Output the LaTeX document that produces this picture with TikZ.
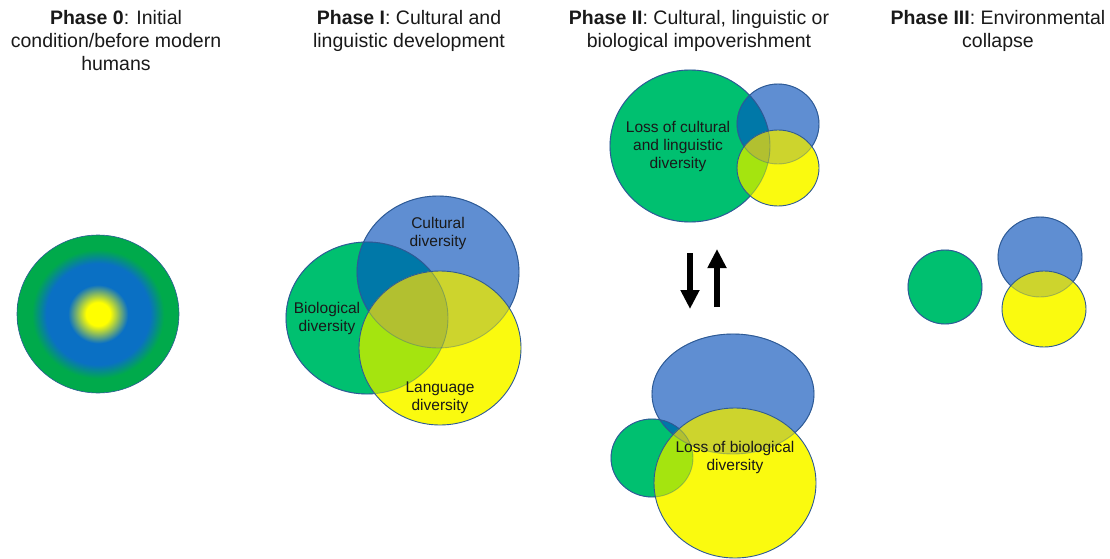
\documentclass[tikz,border=0pt]{standalone}
\usepackage{fontspec}
\setmainfont{Liberation Sans}
\usetikzlibrary{arrows.meta}
\definecolor{cg}{RGB}{0,192,112}
\definecolor{cb}{RGB}{95,142,210}
\definecolor{cgb}{RGB}{0,120,168}
\definecolor{cy}{RGB}{250,250,15}
\definecolor{cyb}{RGB}{205,212,45}
\definecolor{cyg}{RGB}{165,228,15}
\definecolor{cygb}{RGB}{178,192,48}
\definecolor{ol}{RGB}{45,90,150}
\definecolor{txt}{RGB}{25,25,25}
\definecolor{pzy}{RGB}{255,255,0}
\definecolor{pzb}{RGB}{10,112,196}
\definecolor{pzg}{RGB}{0,170,75}
\pgfdeclareradialshading{phasezero}{\pgfpoint{0bp}{0bp}}{color(0bp)=(pzy); color(3.7bp)=(pzy); color(9.3bp)=(pzb); color(16bp)=(pzb); color(20.4bp)=(pzg); color(25bp)=(pzg); color(50bp)=(pzg)}
\newcommand\vennthree[3]{%
  \fill[cg] #1; \fill[cb] #2;
  \begin{scope}\clip #1; \fill[cgb] #2; \end{scope}
  \draw[outl] #1; \draw[outl] #2;
  \fill[cy] #3;
  \begin{scope}\clip #3; \fill[cyb] #2; \fill[cyg] #1; \clip #1; \fill[cygb] #2; \end{scope}
  \draw[outl, draw opacity=.35] #1; \draw[outl, draw opacity=.35] #2;
  \draw[outl] #3;
}
\tikzset{
  outl/.style={draw=ol, line width=0.9pt},
  title/.style={align=center, inner sep=0pt, anchor=north, text=txt, font=\fontsize{19.5}{23}\selectfont},
  lbl/.style={align=center, inner sep=0pt, text=txt, font=\fontsize{15.5}{18}\selectfont},
  bigarrow/.style={line width=6.5pt, -{Triangle[width=18pt,length=19pt]}}
}
\begin{document}
\begin{tikzpicture}[x=1pt,y=-1pt]
\useasboundingbox (0,0) rectangle (1110,559);
% titles
\node[title] (t0) at (116,10) {\textbf{Phase 0}: Initial\\condition/before modern\\humans};
\node[title] (t1) at (409,10) {\textbf{Phase I}: Cultural and\\linguistic development};
\node[title] (t2) at (699,10) {\textbf{Phase II}: Cultural, linguistic or\\biological impoverishment};
\node[title] (t3) at (998,10) {\textbf{Phase III}: Environmental\\collapse};
% phase 0
\shade[shading=phasezero] (98,314) ellipse [x radius=81, y radius=79];
\draw[outl, line width=0.6pt] (98,314) ellipse [x radius=81, y radius=79];
% phase I
\vennthree{(367,318) ellipse [x radius=81, y radius=76]}{(438,272) ellipse [x radius=81, y radius=76]}{(440,348) ellipse [x radius=81, y radius=77]}
\node[lbl] (cul) at (438,233) {Cultural\\diversity};
\node[lbl] (bio) at (327,318) {Biological\\diversity};
\node[lbl] (lan) at (440,398) {Language\\diversity};
% phase II top
\vennthree{(690,146) ellipse [x radius=80, y radius=76]}{(778,124) ellipse [x radius=41, y radius=40]}{(778,168) ellipse [x radius=41, y radius=38]}
\node[lbl] (losscl) at (678,146) {Loss of cultural\\and linguistic\\diversity};
% arrows
\coordinate (d1) at (690,253);
\coordinate (d2) at (690,309);
\coordinate (u1) at (717,307);
\coordinate (u2) at (717,249);
\draw[bigarrow] (d1) -- (d2);
\draw[bigarrow] (u1) -- (u2);
% phase II bottom
\vennthree{(652,458) ellipse [x radius=41, y radius=39]}{(733,394) ellipse [x radius=81, y radius=60]}{(735,483) ellipse [x radius=81, y radius=75]}
\node[lbl] (lossb) at (735,457) {Loss of biological\\diversity};
% phase III
\vennthree{(945,287) ellipse [x radius=37, y radius=37]}{(1040,257) ellipse [x radius=42, y radius=40]}{(1044,309) ellipse [x radius=42, y radius=38]}
\end{tikzpicture}
\end{document}
